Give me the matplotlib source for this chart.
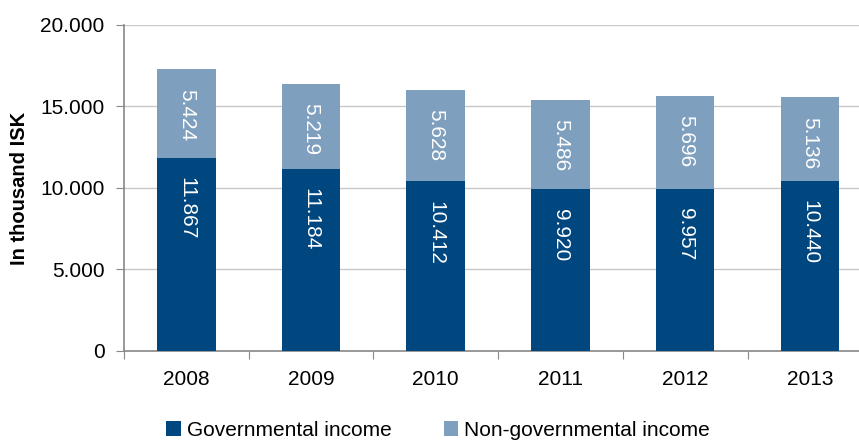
import matplotlib.pyplot as plt
from matplotlib.ticker import FuncFormatter

plt.rcParams['font.family'] = ['Liberation Sans', 'DejaVu Sans']

years = ['2008', '2009', '2010', '2011', '2012', '2013']
governmental = [11867, 11184, 10412, 9920, 9957, 10440]
non_governmental = [5424, 5219, 5628, 5486, 5696, 5136]

dark_blue = '#00467F'
light_blue = '#7F9FBE'


def dotted(v, pos=None):
    return f'{int(v):,}'.replace(',', '.')


fig = plt.figure(figsize=(8.59, 4.40), dpi=100)
ax = fig.add_axes([0.1444, 0.2023, 0.871, 0.741])

x = list(range(len(years)))
b1 = ax.bar(x, governmental, width=0.47, color=dark_blue, label='Governmental income', zorder=3)
b2 = ax.bar(x, non_governmental, width=0.47, bottom=governmental, color=light_blue,
            label='Non-governmental income', zorder=3)

# value labels just inside the top end of each segment
for i in x:
    top_gov = governmental[i]
    top_all = governmental[i] + non_governmental[i]
    for top, val in [(top_gov, governmental[i]), (top_all, non_governmental[i])]:
        ax.annotate(dotted(val), (i, top), xytext=(0, -14), textcoords='offset points',
                    rotation=270, ha='center', va='top', color='white', fontsize=15, zorder=4)

ax.set_xlim(-0.5, len(years) - 0.5)
ax.set_ylim(0, 20000)
ax.set_yticks([0, 5000, 10000, 15000, 20000])
ax.yaxis.set_major_formatter(FuncFormatter(dotted))
ax.grid(axis='y', color='#C8C8C8', linewidth=1, zorder=0)

# ticks between categories on the x axis, labels at the bar centres
ax.set_xticks([i + 0.5 for i in range(-1, len(years))], minor=False)
ax.set_xticklabels([])
ax.set_xticks(x, minor=True)
ax.set_xticklabels(years, minor=True, fontsize=15)
ax.tick_params(axis='x', which='minor', length=0, pad=14)
ax.tick_params(axis='x', which='major', length=6, color='#888888', direction='out')
ax.tick_params(axis='y', length=6, color='#888888', labelsize=15, pad=8)

for side in ['top', 'right']:
    ax.spines[side].set_visible(False)
for side in ['left', 'bottom']:
    ax.spines[side].set_color('#888888')
    ax.spines[side].set_linewidth(1.2)

ax.set_ylabel('In thousand ISK', fontsize=14.5, fontweight='bold', labelpad=8)

fig.legend(handles=[b1, b2], loc='center', bbox_to_anchor=(0.51, 0.022), ncol=2,
           frameon=False, handlelength=0.7, handleheight=0.7, handletextpad=0.3,
           columnspacing=2.5, prop={'size': 15})

fig.savefig('out.png', dpi=100, facecolor='white')
